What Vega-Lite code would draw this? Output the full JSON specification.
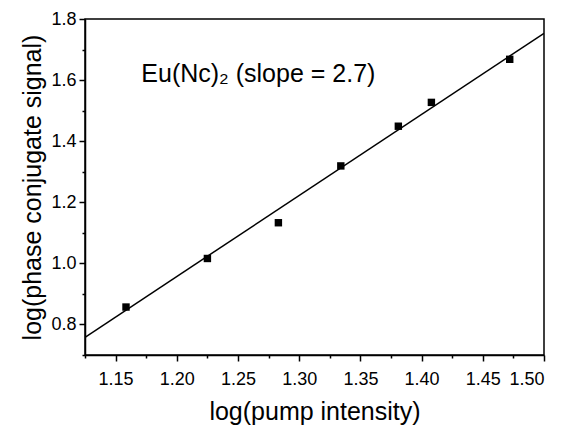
{
  "$schema": "https://vega.github.io/schema/vega-lite/v6.json",
  "width": 459,
  "height": 336,
  "autosize": {"type": "none"},
  "padding": {"left": 85, "top": 19, "right": 23, "bottom": 72},
  "background": "white",
  "config": {
    "view": {"stroke": "black", "strokeWidth": 1.5},
    "font": "Liberation Sans",
    "axis": {
      "grid": false,
      "domainColor": "black",
      "domainWidth": 1.5,
      "tickColor": "black",
      "tickWidth": 1.5,
      "labelColor": "black",
      "titleColor": "black",
      "labelFont": "Liberation Sans",
      "titleFont": "Liberation Sans",
      "labelFontSize": 18,
      "titleFontSize": 25,
      "titleFontWeight": "normal"
    }
  },
  "resolve": {"axis": {"x": "independent", "y": "independent"}},
  "datasets": {
    "pts": [
      {"x": 1.1585, "y": 0.857},
      {"x": 1.225, "y": 1.016},
      {"x": 1.283, "y": 1.133},
      {"x": 1.334, "y": 1.319},
      {"x": 1.381, "y": 1.449},
      {"x": 1.408, "y": 1.527},
      {"x": 1.472, "y": 1.668}
    ],
    "fit": [
      {"x": 1.125, "y": 0.758},
      {"x": 1.5, "y": 1.753}
    ],
    "ann": [
      {"x": 1.171, "y": 1.594, "label": "Eu(Nc)₂ (slope = 2.7)"}
    ]
  },
  "layer": [
    {
      "data": {"name": "fit"},
      "mark": {"type": "line", "color": "black", "strokeWidth": 1.5, "clip": true},
      "encoding": {
        "x": {
          "field": "x", "type": "quantitative",
          "scale": {"domain": [1.125, 1.5], "nice": false, "zero": false},
          "axis": {
            "orient": "bottom",
            "title": "log(pump intensity)",
            "format": ".2f",
            "values": [1.15, 1.2, 1.25, 1.3, 1.35, 1.4, 1.45, 1.5],
            "tickSize": 6,
            "labelPadding": 9,
            "titlePadding": 11
          }
        },
        "y": {
          "field": "y", "type": "quantitative",
          "scale": {"domain": [0.7, 1.8], "nice": false, "zero": false},
          "axis": {
            "orient": "left",
            "title": "log(phase conjugate signal)",
            "format": ".1f",
            "values": [0.8, 1.0, 1.2, 1.4, 1.6, 1.8],
            "tickSize": 6,
            "labelPadding": 3,
            "titlePadding": 5
          }
        }
      }
    },
    {
      "data": {"name": "pts"},
      "mark": {"type": "square", "color": "black", "opacity": 1, "size": 55},
      "encoding": {
        "x": {
          "field": "x", "type": "quantitative",
          "axis": {
            "orient": "bottom",
            "title": null,
            "labels": false,
            "domain": false,
            "values": [1.125, 1.175, 1.225, 1.275, 1.325, 1.375, 1.425, 1.475],
            "tickSize": 3
          }
        },
        "y": {
          "field": "y", "type": "quantitative",
          "axis": {
            "orient": "left",
            "title": null,
            "labels": false,
            "domain": false,
            "values": [0.7, 0.9, 1.1, 1.3, 1.5, 1.7],
            "tickSize": 3
          }
        }
      }
    },
    {
      "data": {"name": "ann"},
      "mark": {"type": "text", "align": "left", "baseline": "alphabetic", "fontSize": 25, "font": "Liberation Sans", "color": "black"},
      "encoding": {
        "x": {"field": "x", "type": "quantitative", "axis": null},
        "y": {"field": "y", "type": "quantitative", "axis": null},
        "text": {"field": "label"}
      }
    }
  ]
}
